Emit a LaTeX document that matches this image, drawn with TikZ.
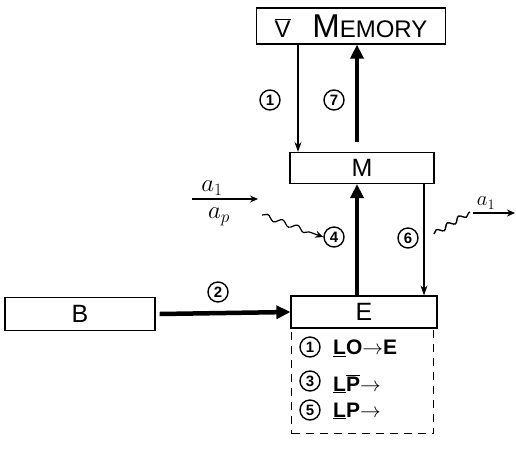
\documentclass[tikz,border=0pt]{standalone}
\usepackage{fontspec}
\setmainfont{Liberation Sans}
\usetikzlibrary{arrows.meta,decorations.pathmorphing}
\begin{document}
\begin{tikzpicture}[x=1pt,y=-1pt,
  blk/.style={draw,line width=1.2pt,minimum height=31pt,inner sep=0pt,font=\fontsize{25}{27}\selectfont},
  num/.style={draw,circle,line width=1.4pt,inner sep=0pt,minimum size=20pt,font=\fontsize{15}{16}\selectfont\bfseries},
  item/.style={anchor=west,inner sep=1pt,font=\fontsize{21}{22}\selectfont\bfseries},
  thin/.style={-{Stealth[length=10pt,width=7pt]},line width=1.1pt},
  thick/.style={-{Triangle[length=14pt,width=13pt]},line width=4.5pt},
  wavy/.style={-{Stealth[length=8pt,width=7pt]},line width=1.2pt,decorate,decoration={snake,amplitude=2.5pt,segment length=16pt,post length=8pt}}]
\useasboundingbox (0,0) rectangle (516,448);
\node[blk,minimum width=189pt,minimum height=36pt] (mem) at (351,26) {\fontsize{24}{26}\selectfont$\overline{\hbox{V}}$\hspace{0.9em}{\fontsize{33}{34}\selectfont M}EMORY};
\node[blk,minimum width=144pt] (m) at (362,168) {M};
\node[blk,minimum width=146pt,minimum height=32pt] (e) at (364,312) {E};
\node[blk,minimum width=150pt,minimum height=33pt] (b) at (80,314) {B};
\node[draw,dashed,dash pattern=on 8pt off 6pt,line width=1.3pt,minimum width=142pt,minimum height=105pt,inner sep=0pt,anchor=north west] (ebox) at (291,328) {};
% memory <-> M
\draw[thin] (mem.south -| 298,0) -- (m.north -| 298,0);
\node[num] (n1) at (270,100) {1};
\draw[thick] (m.north -| 357,0) ++(0,-10) coordinate (m7) -- (mem.south -| 357,0);
\node[num] (n7) at (334,100) {7};
% M <-> E
\draw[thick] (e.north -| 357,0) -- (m.south -| 357,0);
\node[num] (n4) at (334,237) {4};
\draw[thin] (m.south -| 424,0) -- (e.north -| 424,0);
\node[num] (n6) at (408,238) {6};
% B -> E
\draw[thick] (b.east) ++(4,0) coordinate (bs) -- (e.west);
\node[num] (n2) at (218,292) {2};
% a1 / ap
\node[font=\fontsize{24}{26}\selectfont,inner sep=0pt] (a1) at (212,188) {$a_1$};
\node[font=\fontsize{24}{26}\selectfont,inner sep=0pt] (ap) at (219,217) {$a_p$};
\coordinate (fa) at (192,199);
\coordinate (fb) at (258,199);
\draw[-{Stealth[length=8pt,width=7pt]},line width=1.8pt] (fa) -- (fb);
\draw[wavy] (262,215) -- (n4.west);
% a1 out of 6
\coordinate (w6) at (434,234);
\coordinate (w6e) at (470,212);
\draw[line width=1.4pt,decorate,decoration={snake,amplitude=2.5pt,segment length=13pt}] (w6) -- (w6e);
\node[font=\fontsize{22}{24}\selectfont] (a1r) at (486,203) {$a_1$};
\coordinate (r1) at (473,213);
\coordinate (r2) at (515,213);
\draw[-{Stealth[length=8pt,width=7pt]},line width=1.6pt] (r1) -- (r2);
% items in E
\node[num] (i1) at (310,347) {1};
\node[item] (t1) at (332,348) {\underline{L}O$\rightarrow$E};
\node[num] (i3) at (310,381) {3};
\node[item] (t3) at (332,384) {\underline{L}$\overline{\hbox{P}}$$\rightarrow$};
\node[num] (i5) at (310,410) {5};
\node[item] (t5) at (332,411) {\underline{L}P$\rightarrow$};
\end{tikzpicture}
\end{document}
